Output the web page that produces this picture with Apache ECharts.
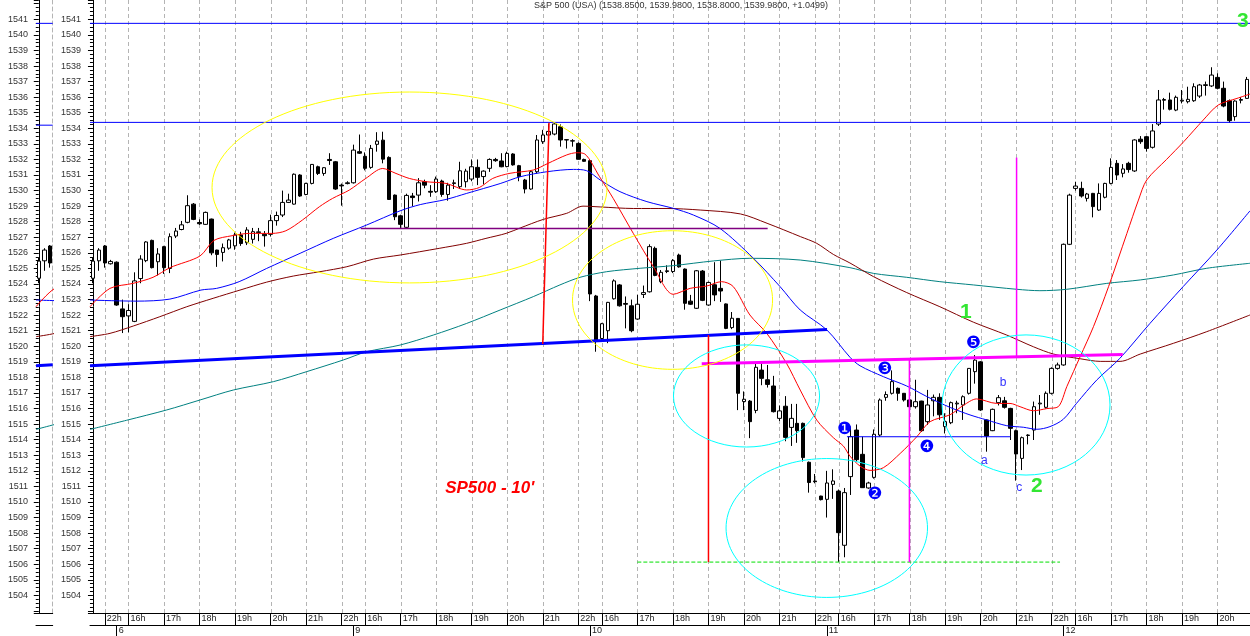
<!DOCTYPE html>
<html><head><meta charset="utf-8">
<script src="https://cdn.jsdelivr.net/npm/echarts@6/dist/echarts.min.js"></script>
<style>html,body{margin:0;padding:0;background:#fff}#c{width:1250px;height:636px}</style>
</head><body><div id="c"></div>
<script>
// ---------- DATA ----------
const titleText = 'S&P 500 (USA) (1538.8500, 1539.9800, 1538.8000, 1539.9800, +1.0499)';
const prevDay = '5';
const prevDayTimes = ['21:40', '21:50', '22:00'];
const tradeDays = ['6', '9', '10', '11', '12'];
const barCount = 196;

const opens = [1524.37,1525.49,1526.44,1525.3,1525.4,1522.4,1521.95,1521.6,1524.35,1525.5,1526.8,1525.43,1526.4,1525.0,1527.08,1527.5,1527.96,1529.13,1527.95,1527.83,1528.17,1526.18,1526.03,1526.3,1526.45,1527.15,1526.65,1526.87,1527.3,1527.2,1527.19,1528.07,1528.43,1529.24,1529.13,1531.0,1529.75,1530.46,1531.53,1531.1,1532.0,1531.85,1530.35,1530.45,1530.5,1532.5,1532.2,1531.49,1532.97,1533.24,1532.13,1529.71,1528.38,1527.64,1529.65,1529.71,1530.57,1529.95,1529.93,1530.61,1529.75,1530.45,1530.25,1530.57,1530.74,1531.49,1530.9,1531.43,1532.0,1531.9,1531.54,1532.35,1531.6,1530.68,1530.1,1531.21,1533.14,1533.57,1533.63,1534.1,1533.27,1533.2,1533.03,1532.0,1531.92,1523.23,1520.5,1521.0,1523.05,1523.94,1522.75,1522.6,1521.75,1523.33,1523.5,1526.29,1524.15,1524.8,1524.8,1525.86,1524.96,1522.9,1522.44,1524.83,1522.65,1523.95,1523.72,1522.72,1521.2,1521.79,1516.45,1516.48,1515.88,1518.47,1517.85,1517.45,1515.37,1516.15,1514.79,1515.05,1515.05,1512.55,1511.35,1510.38,1510.17,1511.13,1510.7,1507.22,1511.63,1514.62,1513.06,1510.9,1511.58,1514.3,1516.72,1516.98,1517.3,1516.98,1516.55,1516.12,1516.48,1515.16,1516.5,1516.72,1514.84,1515.09,1516.3,1516.23,1516.98,1518.37,1519.0,1515.27,1514.58,1516.38,1516.5,1516.01,1514.58,1512.8,1514.27,1514.62,1516.3,1516.08,1516.98,1518.58,1518.8,1526.55,1530.14,1530.14,1529.5,1529.82,1528.75,1529.57,1530.46,1531.75,1531.11,1531.75,1531.26,1533.3,1533.46,1532.78,1534.27,1535.8,1535.82,1535.17,1535.75,1535.71,1535.77,1536.07,1536.75,1536.72,1537.27,1536.57,1535.77,1534.75,1535.8,1535.92];
const closes = [1525.47,1526.18,1525.35,1525.45,1522.65,1521.9,1522.3,1524.2,1525.6,1526.7,1525.05,1525.93,1525.05,1527.04,1527.4,1527.8,1529.03,1528.15,1527.87,1528.6,1526.0,1525.9,1526.33,1526.83,1527.15,1526.6,1527.47,1527.36,1527.35,1527.1,1528.07,1528.4,1529.24,1529.39,1531.05,1529.65,1530.46,1531.68,1531.1,1531.47,1531.93,1530.1,1530.3,1530.5,1532.6,1532.4,1531.43,1532.71,1533.18,1532.02,1529.43,1528.32,1527.83,1529.69,1529.55,1530.5,1530.35,1529.9,1530.74,1529.75,1530.35,1530.5,1531.27,1531.25,1531.53,1530.85,1531.25,1532.0,1531.92,1531.53,1532.39,1531.65,1530.9,1530.1,1531.21,1533.25,1533.57,1533.8,1534.28,1533.25,1533.25,1533.18,1532.01,1531.88,1523.36,1520.4,1521.45,1522.82,1524.2,1522.6,1522.7,1521.0,1522.7,1523.45,1526.4,1524.55,1524.75,1524.85,1525.5,1525.1,1522.76,1522.7,1524.85,1522.95,1524.1,1523.3,1523.55,1521.15,1521.8,1516.98,1516.6,1515.16,1518.65,1517.94,1517.55,1515.8,1515.85,1514.15,1515.37,1514.58,1512.85,1511.25,1511.3,1510.15,1511.22,1511.35,1508.03,1510.6,1514.2,1512.72,1510.92,1511.22,1514.35,1516.55,1516.9,1517.73,1516.98,1516.55,1516.12,1516.44,1514.58,1516.23,1516.72,1515.6,1515.16,1516.38,1516.35,1516.76,1518.58,1519.11,1515.91,1514.24,1515.95,1516.7,1516.08,1514.73,1513.08,1514.13,1514.3,1516.12,1516.35,1516.98,1518.58,1518.8,1526.55,1529.71,1530.29,1529.65,1529.78,1528.97,1529.82,1530.46,1531.49,1531.0,1531.39,1531.35,1533.25,1533.14,1532.71,1533.83,1535.82,1535.85,1535.22,1535.99,1535.8,1535.86,1536.67,1536.78,1536.8,1537.42,1536.57,1535.43,1534.49,1535.75,1535.85,1537.14];
const lows = [1524.05,1524.85,1525.05,1525.25,1522.6,1520.85,1520.9,1521.55,1524.05,1525.4,1525.0,1524.55,1524.65,1524.7,1526.95,1527.45,1527.9,1528.1,1527.8,1527.8,1525.85,1525.1,1525.45,1526.2,1526.2,1526.45,1526.5,1526.6,1526.75,1526.4,1527.05,1527.75,1528.3,1529.2,1529.1,1529.6,1529.7,1530.4,1531.0,1530.95,1531.65,1530.05,1529.03,1530.4,1530.45,1532.35,1531.3,1531.4,1532.5,1531.75,1529.4,1528.1,1527.6,1527.6,1529.0,1529.3,1530.15,1529.6,1529.85,1529.6,1529.35,1530.1,1530.1,1530.2,1530.6,1530.35,1530.4,1531.2,1531.85,1531.5,1531.5,1531.6,1530.6,1529.82,1530.05,1531.1,1533.0,1533.5,1533.55,1532.82,1532.7,1532.82,1532.0,1531.85,1522.9,1519.65,1520.4,1520.2,1523.0,1522.55,1521.15,1520.9,1521.7,1523.1,1523.45,1524.5,1524.05,1524.7,1524.7,1525.05,1522.35,1522.65,1522.4,1522.9,1522.6,1522.9,1522.85,1521.1,1521.1,1515.9,1515.9,1514.1,1515.7,1517.5,1517.35,1515.75,1515.2,1513.9,1513.6,1513.8,1512.6,1510.6,1511.2,1510.1,1509.0,1510.2,1506.15,1506.45,1510.45,1512.6,1510.9,1510.85,1511.5,1514.2,1516.5,1516.9,1516.5,1516.45,1516.05,1516.0,1514.5,1514.95,1515.5,1515.27,1514.4,1515.0,1515.7,1515.27,1516.9,1517.6,1515.85,1513.23,1514.55,1516.2,1516.0,1513.98,1511.37,1512.05,1513.7,1513.98,1515.6,1516.0,1516.9,1518.5,1518.75,1526.5,1530.0,1529.55,1529.3,1528.28,1528.7,1529.5,1530.4,1530.68,1530.85,1531.15,1531.2,1533.0,1532.5,1532.7,1534.15,1535.2,1535.15,1535.1,1535.6,1535.6,1535.7,1535.95,1536.1,1536.65,1536.5,1535.35,1534.35,1534.49,1535.6,1535.9];
const highs = [1525.7,1526.3,1526.5,1525.55,1525.45,1523.0,1522.7,1524.75,1525.85,1526.75,1526.85,1526.3,1526.45,1527.25,1527.6,1528.05,1529.7,1529.2,1528.15,1528.65,1528.2,1526.2,1526.6,1526.9,1527.3,1527.35,1527.65,1527.6,1527.6,1527.4,1528.45,1528.65,1530.0,1529.8,1531.1,1531.05,1530.5,1531.7,1531.6,1531.5,1532.4,1531.9,1530.45,1530.6,1532.95,1533.6,1532.45,1532.93,1533.75,1533.78,1532.2,1529.75,1528.45,1529.8,1529.85,1530.8,1530.7,1530.35,1530.9,1530.7,1530.5,1530.7,1531.85,1531.4,1532.0,1532.0,1531.3,1532.07,1532.1,1532.4,1532.5,1532.4,1531.65,1530.75,1531.3,1533.57,1533.9,1534.3,1534.35,1534.25,1533.3,1533.3,1533.1,1532.05,1531.95,1523.3,1521.5,1522.85,1524.3,1524.0,1523.2,1523.0,1523.3,1523.9,1526.55,1526.4,1524.9,1525.2,1525.6,1525.95,1525.0,1523.3,1524.9,1524.9,1524.15,1525.4,1525.5,1522.75,1522.2,1521.8,1517.1,1516.55,1518.9,1518.9,1518.8,1518.1,1516.2,1516.8,1516.3,1516.3,1515.1,1512.6,1511.8,1510.4,1512.0,1512.1,1510.8,1510.9,1514.85,1514.98,1514.2,1511.3,1514.66,1516.65,1517.1,1518.45,1517.35,1517.0,1516.6,1517.85,1516.5,1517.2,1516.9,1516.98,1515.7,1516.45,1516.5,1516.85,1518.6,1519.44,1519.05,1515.3,1516.0,1516.87,1516.75,1516.05,1514.65,1514.2,1514.35,1516.45,1516.87,1517.1,1518.65,1518.95,1526.6,1529.8,1530.57,1530.57,1529.85,1529.85,1530.46,1530.5,1532.07,1531.96,1531.7,1531.85,1533.3,1533.5,1533.5,1534.27,1536.46,1535.95,1536.29,1536.1,1536.46,1536.67,1536.89,1536.85,1537.0,1537.92,1537.53,1537.0,1535.85,1535.8,1536.0,1537.3];

// moving averages: [bar position, value]
const maShort = [[-0.5,1522.54],[2.88,1523.72],[6.77,1524.04],[10.15,1524.43],[13.02,1525.05],[18.09,1525.8],[20.45,1526.8],[23.5,1527.1],[26.5,1527.25],[30.25,1527.25],[32.6,1527.42],[35.4,1528.11],[38.25,1528.96],[40.5,1529.5],[43.3,1530.03],[46.1,1530.78],[48.96,1531.42],[51.2,1531.1],[53.45,1530.78],[56.3,1530.57],[59.65,1530.46],[63.15,1530.04],[65.3,1530.2],[67.55,1530.78],[70.47,1531.11],[74.4,1531.32],[76.9,1531.75],[80.05,1532.29],[81.7,1532.43],[83.1,1532.35],[85.6,1530.89],[87.9,1529.5],[91.3,1527.25],[94.7,1525.11],[98.05,1523.34],[100.9,1523.72],[103.7,1523.87],[106.2,1524.15],[108.2,1523.83],[111.0,1522.01],[113.85,1520.83],[117.2,1518.9],[119.5,1517.19],[122.3,1515.26],[125.1,1514.13],[126.8,1513.59],[127.9,1512.95],[129.6,1512.31],[131.3,1512.03],[133.55,1512.2],[136.4,1513.12],[139.2,1514.19],[141.45,1515.16],[144.8,1515.6],[147.05,1516.2],[149.3,1516.62],[152.7,1516.33],[154.95,1516.33],[156.65,1516.12],[158.9,1515.86],[161.2,1516.0],[163.1,1516.12],[164.55,1517.41],[166.8,1519.33],[169.05,1521.26],[171.6,1523.83],[174.7,1527.25],[176.65,1529.39],[178.05,1530.68],[181.4,1532.0],[184.3,1533.14],[187.6,1534.53],[190.15,1535.5],[193.3,1535.92],[195.5,1536.2]];
const maMid = [[-0.5,1522.97],[7.35,1522.9],[13.0,1523.03],[18.25,1523.61],[20.9,1523.72],[24.7,1524.15],[29.35,1525.0],[35.0,1525.97],[40.6,1526.93],[46.25,1527.79],[51.9,1528.7],[55.3,1529.1],[59.65,1529.43],[63.15,1529.82],[68.8,1530.45],[72.2,1530.89],[76.7,1531.21],[81.2,1531.36],[83.4,1531.28],[85.7,1530.68],[89.05,1529.93],[93.6,1529.29],[98.05,1528.86],[101.45,1528.43],[105.95,1527.57],[111.6,1525.65],[116.1,1523.83],[119.5,1522.33],[124.0,1521.05],[127.9,1519.3],[129.6,1518.75],[133.55,1518.05],[137.5,1517.45],[140.9,1516.77],[144.85,1516.07],[148.2,1515.59],[151.0,1515.27],[154.4,1514.9],[157.2,1514.8],[159.5,1514.67],[161.7,1514.84],[163.95,1515.31],[166.2,1516.34],[169.6,1517.83],[173.5,1519.22],[178.6,1521.47],[184.2,1523.83],[189.9,1526.18],[195.5,1528.7]];
const maLong = [[-0.5,1520.62],[2.88,1520.83],[6.8,1521.3],[11.3,1521.9],[15.85,1522.54],[20.3,1523.08],[24.85,1523.61],[29.35,1524.12],[33.85,1524.51],[38.35,1524.79],[42.9,1525.11],[47.4,1525.6],[51.9,1525.86],[58.5,1526.29],[63.1,1526.61],[66.4,1526.93],[69.8,1527.25],[72.2,1527.6],[76.1,1528.15],[80.05,1528.54],[82.8,1529.0],[85.7,1528.95],[91.3,1528.85],[97.0,1528.85],[102.6,1528.75],[109.4,1528.5],[113.9,1527.9],[119.55,1527.04],[122.3,1526.61],[125.1,1525.9],[127.9,1525.35],[131.9,1524.47],[137.5,1523.45],[143.1,1522.54],[148.75,1521.55],[154.4,1520.72],[158.9,1519.97],[162.3,1519.5],[166.8,1519.2],[170.2,1519.03],[173.55,1519.03],[176.95,1519.5],[182.55,1520.19],[188.2,1520.94],[195.5,1522.01]];
const maVeryLong = [[-0.5,1514.66],[5.7,1515.25],[12.46,1515.91],[18.09,1516.55],[23.7,1517.19],[30.5,1517.73],[36.1,1518.37],[42.3,1519.12],[46.25,1519.65],[51.9,1520.08],[57.5,1520.72],[63.15,1521.47],[68.8,1522.33],[74.4,1523.19],[78.9,1523.94],[82.3,1524.43],[86.8,1524.79],[92.45,1525.01],[98.05,1525.18],[104.8,1525.48],[111.0,1525.65],[119.5,1525.54],[127.9,1525.05],[131.9,1524.68],[137.5,1524.43],[143.1,1524.15],[148.75,1523.94],[156.1,1523.66],[160.0,1523.57],[164.55,1523.66],[171.3,1524.04],[176.95,1524.26],[182.55,1524.58],[188.2,1525.01],[195.5,1525.33]];

// drawn lines: [x1, value1, x2, value2]
const drawnLines = [
  [-0.5,1540.74,195.5,1540.74],
  [-0.5,1534.38,195.5,1534.38],
  [45.24,1527.57,114.0,1527.57],
  [-0.5,1518.75,124.04,1521.08],
  [102.86,1518.88,174.0,1519.48],
  [127.4,1514.19,155.0,1514.19],
  [91.98,1506.14,163.4,1506.14],
  [77.06,1534.35,76.0,1520.15],
  [104.0,1520.72,104.0,1506.14],
  [137.95,1519.18,137.95,1506.14],
  [156.06,1532.12,156.06,1519.33]
];
const leftPaneLines = [
  [-0.5,1540.74,2.5,1540.74],
  [-0.5,1534.2,2.5,1534.2],
  [-0.5,1518.75,2.5,1518.81]
];
// ellipses: [centre x, centre value, half width (bars), half height (points)]
const ellipses = [
  [53.49,1530.2,33.37,6.13],
  [97.93,1522.97,16.9,4.45],
  [110.43,1516.81,12.34,3.28],
  [123.99,1508.33,17.02,4.46],
  [157.66,1516.23,14.19,4.5]
];
const waveCountText = ['1','2','3'];
const waveCountPos = [[147.5,1522.2],[159.5,1511.0],[194.3,1540.9]];
const pointText = ['\u2776','\u2777','\u2778','\u2779','\u277A'];
const pointPos = [[127.0,1514.63],[132.1,1510.45],[133.8,1518.48],[140.9,1513.5],[148.8,1520.15]];
const subText = ['a','b','c'];
const subPos = [[150.6,1512.63],[153.8,1517.64],[156.5,1510.9]];
const noteText = ["SP500 - 10'"];
const notePos = [[67.04,1510.9]];

// ---------- STYLES ----------
const FONT = 'Liberation Sans, Arial, sans-serif';
const Y_MIN = 1502.87, Y_MAX = 1542.24;
const X_MIN = -0.5, X_MAX = barCount - 0.5;
const lineColors = ['#0000ff','#0000ff','#800080','#0000ff','#ff00ff','#0000ff','#00e000','#ff0000','#ff0000','#ff00ff','#ff00ff'];
const lineWidths = [1,1,1.5,3,3,1,1,1.5,1.5,1.5,1.5];
const lineDashes = [null,null,null,null,null,null,[4,2],null,null,null,null];
const leftLineColors = ['#0000ff','#0000ff','#0000ff'];
const leftLineWidths = [1,1,3];
const ellipseColors = ['#ffff00','#ffff00','#00ffff','#00ffff','#00ffff'];

// ---------- BUILD ----------
const pad = n => (n < 10 ? '0' : '') + n;
const sessionTimes = [];
for (let m = 15 * 60 + 30; m <= 22 * 60; m += 10) sessionTimes.push(pad(Math.floor(m / 60)) + ':' + pad(m % 60));
const categories = prevDayTimes.map(t => prevDay + ' ' + t);
tradeDays.forEach(d => sessionTimes.forEach(t => categories.push(d + ' ' + t)));
categories.length = barCount;
const timeOf = c => c.split(' ')[1];
const dayOf = c => c.split(' ')[0];
const isHour = c => timeOf(c).endsWith(':00');
const isDayMark = c => timeOf(c) === '15:40';
const hourBars = [];
categories.forEach((c, i) => { if (isHour(c)) hourBars.push([i, 1520]); });
const candles = opens.map((o, i) => [o, closes[i], lows[i], highs[i]]);

function yAxisOf(gridIndex, margin) {
  return {
    type: 'value', gridIndex, min: Y_MIN, max: Y_MAX, splitNumber: 40, minInterval: 1, maxInterval: 1,
    position: 'left',
    axisLine: { show: true, lineStyle: { color: '#000', width: 1 } },
    axisTick: { show: true, length: 5, lineStyle: { color: '#000' } },
    minorTick: { show: true, splitNumber: 4, length: 3, lineStyle: { color: '#000' } },
    splitLine: { show: false },
    axisLabel: {
      show: true, margin, fontSize: 9, color: '#333', fontFamily: FONT,
      formatter: v => (Math.abs(v - Math.round(v)) < 1e-6 && v >= 1504 && v <= 1541) ? String(Math.round(v)) : ''
    }
  };
}

function segRender(colors, widths, dashes) {
  return (params, api) => {
    const a = api.coord([api.value(0), api.value(1)]);
    const b = api.coord([api.value(2), api.value(3)]);
    const i = params.dataIndex;
    return { type: 'line', shape: { x1: a[0], y1: a[1], x2: b[0], y2: b[1] },
      style: { stroke: colors[i], lineWidth: widths[i], lineDash: dashes ? dashes[i] : null, fill: null } };
  };
}
function textSeries(pos, texts, style, z) {
  return {
    type: 'custom', xAxisIndex: 2, yAxisIndex: 0, data: pos, z, silent: true, clip: false,
    renderItem: (params, api) => {
      const c = api.coord([api.value(0), api.value(1)]);
      return { type: 'text', x: c[0], y: c[1],
        style: Object.assign({ text: texts[params.dataIndex], align: 'center', verticalAlign: 'middle' }, style) };
    }
  };
}
function maSeries(data, color, xi, yi) {
  return { type: 'line', xAxisIndex: xi, yAxisIndex: yi, data, symbol: 'none', showSymbol: false, smooth: 0.3,
    lineStyle: { color, width: 1 }, z: 3, silent: true, clip: true };
}

const option = {
  animation: false,
  backgroundColor: '#fff',
  title: { text: titleText, left: 534, top: 1, padding: 0,
    textStyle: { fontSize: 9, fontWeight: 'normal', color: '#333', fontFamily: FONT } },
  grid: [
    { left: 90, top: 0, width: 1160, height: 613 },
    { left: 36, top: 0, width: 16.7, height: 613 }
  ],
  xAxis: [
    { type: 'category', gridIndex: 0, data: categories, boundaryGap: true, position: 'bottom',
      axisLine: { show: true, onZero: false, lineStyle: { color: '#000' } },
      axisTick: { show: true, alignWithLabel: true, length: 12, interval: (i, v) => isHour(v), lineStyle: { color: '#000' } },
      axisLabel: { show: true, interval: (i, v) => isHour(v), formatter: v => parseInt(timeOf(v), 10) + 'h',
        align: 'left', padding: [0, 0, 0, 2], margin: 1, verticalAlign: 'top', fontSize: 9, color: '#222', fontFamily: FONT },
      splitLine: { show: false } },
    { type: 'category', gridIndex: 0, data: categories, boundaryGap: true, position: 'bottom', offset: 12.3,
      axisLine: { show: true, onZero: false, lineStyle: { color: '#000' } },
      axisTick: { show: true, alignWithLabel: true, length: 11, interval: (i, v) => isDayMark(v), lineStyle: { color: '#000' } },
      axisLabel: { show: true, interval: (i, v) => isDayMark(v), formatter: v => dayOf(v),
        align: 'left', padding: [0, 0, 0, 2], margin: 1, verticalAlign: 'top', fontSize: 9, color: '#222', fontFamily: FONT },
      splitLine: { show: false } },
    { type: 'value', gridIndex: 0, min: X_MIN, max: X_MAX, show: false },
    { type: 'category', gridIndex: 1, data: categories.slice(0, 3), boundaryGap: true, position: 'bottom',
      axisLine: { show: true, onZero: false, lineStyle: { color: '#000' } }, axisTick: { show: false }, axisLabel: { show: false } },
    { type: 'category', gridIndex: 1, data: categories.slice(0, 3), boundaryGap: true, position: 'bottom', offset: 12.3,
      axisLine: { show: true, onZero: false, lineStyle: { color: '#000' } }, axisTick: { show: false }, axisLabel: { show: false } },
    { type: 'value', gridIndex: 1, min: X_MIN, max: 2.5, show: false }
  ],
  yAxis: [
    yAxisOf(0, 9),
    yAxisOf(1, 8),
    { type: 'value', gridIndex: 1, min: Y_MIN, max: Y_MAX, position: 'right',
      axisLine: { show: true, lineStyle: { color: '#b4b4b4', type: [4, 3] } },
      axisTick: { show: false }, axisLabel: { show: false }, splitLine: { show: false } }
  ],
  series: [
    // hour grid lines
    { type: 'custom', xAxisIndex: 2, yAxisIndex: 0, data: hourBars, z: 1, silent: true,
      renderItem: (params, api) => {
        const x = Math.round(api.coord([api.value(0), Y_MAX])[0]) + 0.5;
        const top = api.coord([0, Y_MAX])[1], bot = api.coord([0, Y_MIN])[1];
        return { type: 'line', shape: { x1: x, y1: top, x2: x, y2: bot }, style: { stroke: '#b4b4b4', lineWidth: 1, lineDash: [4, 3] } };
      } },
    { type: 'candlestick', xAxisIndex: 0, yAxisIndex: 0, data: candles, barWidth: 4, z: 2, silent: true,
      itemStyle: { color: '#ffffff', color0: '#000000', borderColor: '#000000', borderColor0: '#000000', borderWidth: 1 } },
    maSeries(maVeryLong, '#008080', 2, 0),
    maSeries(maLong, '#800000', 2, 0),
    maSeries(maMid, '#0000ff', 2, 0),
    maSeries(maShort, '#ff0000', 2, 0),
    { type: 'custom', xAxisIndex: 2, yAxisIndex: 0, data: drawnLines, z: 4, silent: true, clip: true,
      renderItem: segRender(lineColors, lineWidths, lineDashes) },
    { type: 'custom', xAxisIndex: 2, yAxisIndex: 0, data: ellipses, z: 4, silent: true, clip: true,
      renderItem: (params, api) => {
        const c = api.coord([api.value(0), api.value(1)]);
        const e = api.coord([api.value(0) + api.value(2), api.value(1) + api.value(3)]);
        return { type: 'ellipse', shape: { cx: c[0], cy: c[1], rx: Math.abs(e[0] - c[0]), ry: Math.abs(e[1] - c[1]) },
          style: { fill: null, stroke: ellipseColors[params.dataIndex], lineWidth: 1 } };
      } },
    textSeries(waveCountPos, waveCountText, { fill: '#33e633', fontSize: 21, fontWeight: 'bold', fontFamily: FONT }, 6),
    textSeries(pointPos, pointText, { fill: '#0000ff', fontSize: 17, fontFamily: 'DejaVu Sans' }, 6),
    textSeries(subPos, subText, { fill: '#3030ff', fontSize: 12, fontFamily: FONT }, 6),
    textSeries(notePos, noteText, { fill: '#ff0000', fontSize: 17, fontWeight: 'bold', fontStyle: 'italic', fontFamily: FONT }, 6),
    // left pane
    { type: 'candlestick', xAxisIndex: 3, yAxisIndex: 1, data: candles.slice(0, 3), barWidth: 4, z: 2, silent: true,
      itemStyle: { color: '#ffffff', color0: '#000000', borderColor: '#000000', borderColor0: '#000000', borderWidth: 1 } },
    maSeries(maVeryLong, '#008080', 5, 1),
    maSeries(maLong, '#800000', 5, 1),
    maSeries(maMid, '#0000ff', 5, 1),
    maSeries(maShort, '#ff0000', 5, 1),
    { type: 'custom', xAxisIndex: 5, yAxisIndex: 1, data: leftPaneLines, z: 4, silent: true, clip: true,
      renderItem: segRender(leftLineColors, leftLineWidths, null) }
  ]
};
const chart = echarts.init(document.getElementById('c'));
chart.setOption(option);
</script>
</body></html>
